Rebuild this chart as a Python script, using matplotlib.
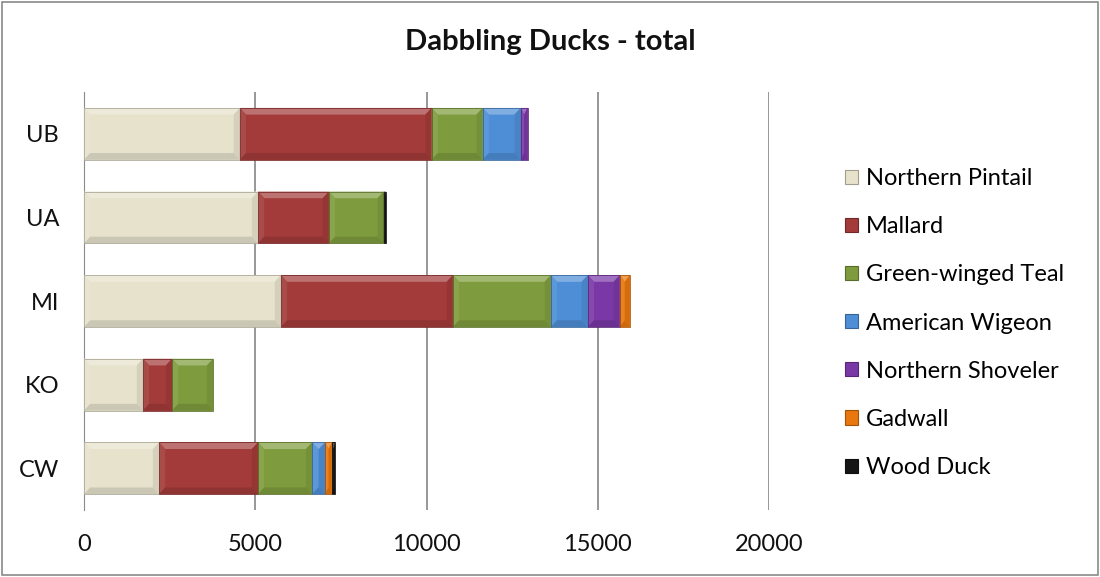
import numpy as np
import matplotlib
matplotlib.use('Agg')
import matplotlib.pyplot as plt
from matplotlib.patches import Polygon, Rectangle, Patch
from matplotlib import colors as mcolors

plt.rcParams['font.family'] = ['Lato', 'DejaVu Sans']

sites = ['CW', 'KO', 'MI', 'UA', 'UB']
species = ['Northern Pintail', 'Mallard', 'Green-winged Teal', 'American Wigeon',
           'Northern Shoveler', 'Gadwall', 'Wood Duck']
# counts per site, same order as sites
northern_pintail = [2190, 1720, 5750, 5080, 4550]
mallard = [2890, 850, 5020, 2070, 5600]
green_winged_teal = [1580, 1200, 2860, 1600, 1490]
american_wigeon = [380, 0, 1080, 0, 1110]
northern_shoveler = [0, 0, 935, 0, 200]
gadwall = [200, 0, 290, 0, 0]
wood_duck = [90, 0, 0, 60, 0]

series = [northern_pintail, mallard, green_winged_teal, american_wigeon,
          northern_shoveler, gadwall, wood_duck]
palette = ['#E6E2CC', '#A23B39', '#7E9C3D', '#4E8ED6', '#7A38A6', '#E8770E', '#151515']


def shade(c, f):
    r = np.array(mcolors.to_rgb(c))
    if f > 0:
        r = r + (1 - r) * f
    else:
        r = r * (1 + f)
    return tuple(np.clip(r, 0, 1))


def bevel(ax, x0, w, yc, h, col, bx, by):
    # fake Excel-style bevel: light top/left, darker bottom/right
    bx = min(bx, w / 2)
    x1 = x0 + w
    yb, yt = yc - h / 2, yc + h / 2
    top = [(x0, yt), (x1, yt), (x1 - bx, yt - by), (x0 + bx, yt - by)]
    bot = [(x0, yb), (x1, yb), (x1 - bx, yb + by), (x0 + bx, yb + by)]
    left = [(x0, yt), (x0 + bx, yt - by), (x0 + bx, yb + by), (x0, yb)]
    right = [(x1, yt), (x1 - bx, yt - by), (x1 - bx, yb + by), (x1, yb)]
    for pts, f in [(top, 0.28), (left, 0.08), (right, -0.08), (bot, -0.12)]:
        ax.add_patch(Polygon(pts, closed=True, facecolor=shade(col, f),
                             edgecolor='none', zorder=3))
    ax.add_patch(Rectangle((x0, yb), w, h, fill=False,
                           edgecolor=shade(col, -0.25), linewidth=0.6, zorder=4))


fig = plt.figure(figsize=(11, 5.77), dpi=100)
fig.patches.append(Rectangle((0.002, 0.003), 0.996, 0.994, transform=fig.transFigure,
                             fill=False, edgecolor='#8a8a8a', linewidth=1.2))
ax = fig.add_axes([0.0764, 0.116, 0.6227, 0.7245])

y = np.arange(len(sites))
h = 0.62
left = np.zeros(len(sites))
for vals, col in zip(series, palette):
    vals = np.array(vals, dtype=float)
    ax.barh(y, vals, left=left, height=h, color=col, edgecolor='none', zorder=2)
    for i in range(len(sites)):
        if vals[i] > 0:
            bevel(ax, left[i], vals[i], y[i], h, col, 180, 0.08)
    left += vals

ax.set_xlim(0, 20000)
ax.set_ylim(-0.5, 4.5)
ax.set_xticks([0, 5000, 10000, 15000, 20000])
ax.set_yticks(y)
ax.set_yticklabels(sites)
ax.xaxis.grid(True, color='#7a7a7a', linewidth=1.1, zorder=0)
ax.set_axisbelow(True)
for s in ['top', 'right', 'bottom']:
    ax.spines[s].set_visible(False)
ax.spines['left'].set_color('#8a8a8a')
ax.tick_params(axis='x', length=0, labelsize=17, pad=17, colors='#111111')
ax.tick_params(axis='y', length=0, labelsize=17, pad=18, colors='#111111')

fig.text(0.5, 0.927, 'Dabbling Ducks - total', ha='center', va='center',
         fontsize=21, fontweight='bold', color='#111111')

handles = [Patch(facecolor=c, edgecolor=shade(c, -0.3), linewidth=0.8) for c in palette]
fig.legend(handles, species, loc='upper left', bbox_to_anchor=(0.760, 0.725),
           frameon=False, fontsize=17, handlelength=0.55, handleheight=0.55,
           handletextpad=0.3, labelspacing=1.15, borderaxespad=0)

fig.savefig('out.png', dpi=100)
